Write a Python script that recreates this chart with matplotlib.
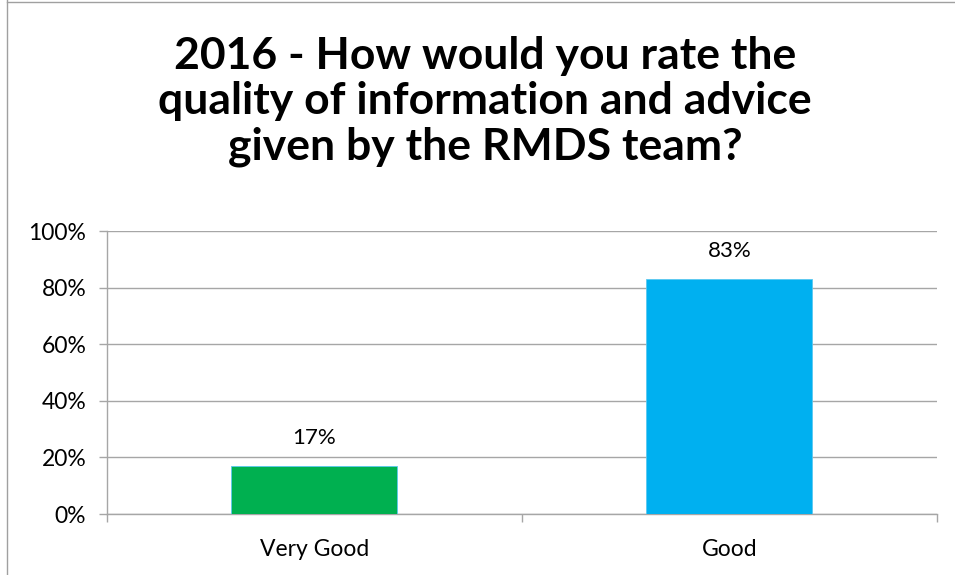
import matplotlib.pyplot as plt
from matplotlib.lines import Line2D
from matplotlib.ticker import FuncFormatter, MultipleLocator

categories = ["Very Good", "Good"]
shares = [17, 83]
bar_colors = ["#00B050", "#00B0F0"]
title = "2016 - How would you rate the\nquality of information and advice\ngiven by the RMDS team?"

plt.rcParams["font.family"] = ["Lato", "DejaVu Sans"]

fig = plt.figure(figsize=(9.55, 5.75), dpi=100)
ax = fig.add_axes([0.112, 0.106, 0.869, 0.492])

x = list(range(len(categories)))
bars = ax.bar(x, shares, width=0.40, color=bar_colors, edgecolor="#5BC8F0",
              linewidth=0.6, zorder=3)
for rect, val in zip(bars, shares):
    ax.text(rect.get_x() + rect.get_width() / 2, val + 6.5, f"{val}%",
            ha="center", va="bottom", fontsize=16, color="#000000")

ax.set_xlim(-0.5, len(categories) - 0.5)
ax.set_ylim(0, 100)
ax.yaxis.set_major_locator(MultipleLocator(20))
ax.yaxis.set_major_formatter(FuncFormatter(lambda v, _: f"{v:.0f}%"))
ax.grid(axis="y", color="#A6A6A6", linewidth=1.0, zorder=0)

ax.set_xticks(x)
ax.set_xticklabels(categories, fontsize=16.5)
ax.tick_params(axis="x", length=0, pad=18)
ax.set_xticks([-0.5, 0.5, 1.5], minor=True)
ax.tick_params(axis="x", which="minor", length=6, color="#A6A6A6", width=1.0)
ax.tick_params(axis="y", labelsize=16.5, length=6, color="#A6A6A6", width=1.0, pad=9)

for side in ["top", "right"]:
    ax.spines[side].set_visible(False)
for side in ["left", "bottom"]:
    ax.spines[side].set_color("#A6A6A6")
    ax.spines[side].set_linewidth(1.0)

fig.text(0.508, 0.938, title, ha="center", va="top", fontsize=32,
         fontweight="bold", linespacing=1.17)

# thin outer frame on the left and top edges
fig.add_artist(Line2D([0.007, 0.007], [0, 1], color="#A0A0A0", linewidth=1.0,
                      transform=fig.transFigure))
fig.add_artist(Line2D([0.007, 1], [0.997, 0.997], color="#A0A0A0", linewidth=1.0,
                      transform=fig.transFigure))

fig.savefig("out.png", dpi=100)
